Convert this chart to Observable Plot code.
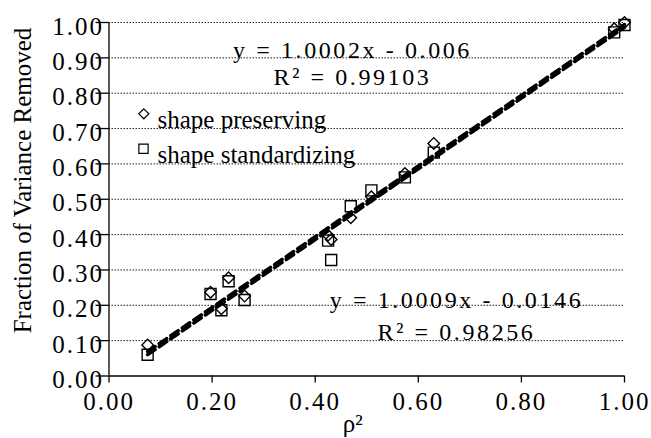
<!DOCTYPE html>
<html><head><meta charset="utf-8">
<script src="https://cdn.jsdelivr.net/npm/d3@7"></script>
<script src="https://cdn.jsdelivr.net/npm/@observablehq/plot@0.6"></script>
<style>body{margin:0;background:#fff} svg{display:block}</style>
</head><body>
<script>
// ---- data ----
const rho2          = [0.075, 0.197, 0.218, 0.232, 0.263, 0.425, 0.431, 0.469, 0.509, 0.574, 0.630, 0.980, 1.000];
const preserving    = [0.088, 0.237, 0.190, 0.278, 0.226, 0.398, 0.386, 0.448, 0.507, 0.573, 0.658, 0.982, 1.000];
const standardizing = [0.060, 0.232, 0.186, 0.268, 0.215, 0.383, 0.328, 0.480, 0.525, 0.562, 0.632, 0.972, 0.993];
const seriesNames = ["shape preserving", "shape standardizing"];
const slopes     = [1.0002, 1.0009];
const intercepts = [-0.006, -0.0146];
const r2         = [0.99103, 0.98256];
const xTicks = [0, 0.2, 0.4, 0.6, 0.8, 1.0];
const yTicks = [0, 0.1, 0.2, 0.3, 0.4, 0.5, 0.6, 0.7, 0.8, 0.9, 1.0];
const xLabel = "ρ²";
const yLabel = "Fraction of Variance Removed";

// ---- derived tables ----
const pts = rho2.map((x, i) => ({x, p: preserving[i], s: standardizing[i]}));
const xmin = d3.min(rho2), xmax = d3.max(rho2);
const fit = k => [xmin, xmax].map(x => ({x, y: slopes[k] * x + intercepts[k]}));
const eqText = k => `y = ${slopes[k].toFixed(4)}x - ${Math.abs(intercepts[k])}\nR² = ${r2[k]}`;
const fmt = d3.format(".2f");
const FONT = "Liberation Serif, Times New Roman, serif";
const txt = (s, o) => Plot.text([s], {text: d => d, fill: "#000", fontFamily: FONT, lineAnchor: "middle", ...o});

const svg = Plot.plot({
  width: 651, height: 438,
  marginLeft: 108.5, marginRight: 27, marginTop: 22, marginBottom: 62.5,
  x: {domain: [0, 1]},
  y: {domain: [0, 1]},
  style: {fontFamily: FONT, background: "#fff", color: "#000", overflow: "visible"},
  marks: [
    Plot.ruleY(yTicks.filter(d => d > 0), {x1: 0, x2: 1, stroke: "#222", strokeWidth: 1, strokeDasharray: "1.5,1.5"}),
    Plot.ruleX([0], {y1: 0, y2: 1, stroke: "#000", strokeWidth: 1.3}),
    Plot.ruleY([0], {x1: 0, x2: 1, stroke: "#000", strokeWidth: 1.3}),
    Plot.axisY({ticks: yTicks, tickSize: 13, fill: "none", label: null, stroke: "#000", strokeWidth: 1.3}),
    Plot.axisY({ticks: yTicks, tickSize: 0, tickPadding: 1, tickFormat: fmt, fontSize: 25, dx: -4, dy: 4, label: null, fill: "#000"}),
    Plot.axisX({ticks: xTicks, tickSize: 7, fill: "none", label: null, stroke: "#000", strokeWidth: 1.3}),
    Plot.axisX({ticks: xTicks, tickSize: 0, tickPadding: 16, tickFormat: fmt, fontSize: 25, label: null, fill: "#000"}),
    Plot.dot(pts, {x: "x", y: "s", symbol: "square2", r: 7, stroke: "#000", strokeWidth: 1.4, fill: "none"}),
    Plot.dot(pts, {x: "x", y: "p", symbol: "diamond2", r: 5.2, stroke: "#000", strokeWidth: 1.4, fill: "none"}),
    Plot.line(fit(0), {x: "x", y: "y", stroke: "#000", strokeWidth: 3.5, strokeDasharray: "9,5"}),
    Plot.line(fit(1), {x: "x", y: "y", stroke: "#000", strokeWidth: 3.5, strokeDasharray: "9,5"}),
    // equations (two lines each)
    txt(eqText(0), {frameAnchor: "top-left", dx: 243.5, dy: 40, textAnchor: "middle", fontSize: 24, lineHeight: 1.13}),
    txt(eqText(1), {frameAnchor: "top-left", dx: 347.5, dy: 291, textAnchor: "middle", fontSize: 24, lineHeight: 1.33}),
    // legend
    Plot.dot([seriesNames[0]], {frameAnchor: "top-left", dx: 34.8, dy: 91.3, symbol: "diamond2", r: 4.5, stroke: "#000", strokeWidth: 1.2, fill: "none"}),
    Plot.dot([seriesNames[1]], {frameAnchor: "top-left", dx: 34.5, dy: 126.3, symbol: "square2", r: 5.9, stroke: "#000", strokeWidth: 1.2, fill: "none"}),
    txt(seriesNames[0], {frameAnchor: "top-left", dx: 48.5, dy: 97, textAnchor: "start", fontSize: 25}),
    txt(seriesNames[1], {frameAnchor: "top-left", dx: 48.5, dy: 132, textAnchor: "start", fontSize: 25}),
    // axis titles
    txt(yLabel, {frameAnchor: "left", rotate: -90, dx: -86.5, dy: -18.75, textAnchor: "middle", fontSize: 25}),
    txt(xLabel, {frameAnchor: "bottom", dx: -14, dy: 47.5, textAnchor: "middle", fontSize: 25})
  ]
});

d3.select(svg).selectAll("text").each(function() {
  const t = this.textContent;
  if (/^\d\.\d\d$/.test(t)) this.setAttribute("letter-spacing", "2");
  else if (t.startsWith("y =")) this.setAttribute("letter-spacing", "2.6");
});
document.body.appendChild(svg);
</script>
</body></html>
